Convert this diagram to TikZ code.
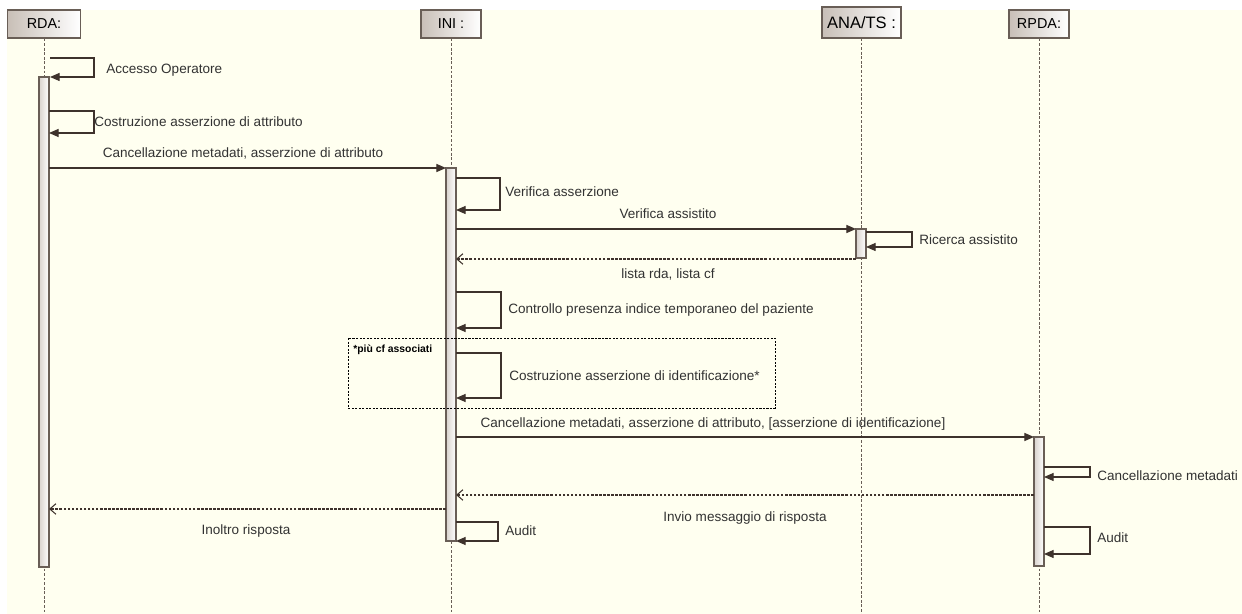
\documentclass[tikz,border=0pt]{standalone}
\usepackage{fontspec}
\setmainfont{Liberation Sans}
\usetikzlibrary{arrows.meta}

\definecolor{sfondo}{RGB}{255,255,240}
\definecolor{bordo}{RGB}{105,94,86}
\definecolor{freccia}{RGB}{62,50,44}
\definecolor{testo}{RGB}{50,50,50}
\definecolor{ombra}{RGB}{200,191,183}

\tikzset{
  head/.style={draw=bordo, line width=0.7pt, left color=ombra, right color=white,
    minimum height=0.56cm, inner sep=0pt, text=black},
  lifeline/.style={draw=bordo, line width=0.5pt, dash pattern=on 1.6pt off 1pt},
  actbar/.style={draw=bordo, line width=0.6pt, left color=ombra!70, right color=white},
  selfmsg/.style={draw=freccia, line width=0.6pt, -{Triangle[length=5.5pt,width=4.6pt]}},
  callmsg/.style={draw=freccia, line width=0.7pt, -{Triangle[length=5.5pt,width=4.6pt]}},
  replymsg/.style={draw=freccia, line width=0.6pt, dash pattern=on 1.5pt off 0.8pt,
    -{Straight Barb[length=3.5pt,width=6pt]}},
  frame/.style={draw=black, line width=0.5pt, dash pattern=on 1.2pt off 0.8pt}
}

\begin{document}
\begin{tikzpicture}[x=0.02cm,y=-0.02cm,font=\fontsize{7.7}{9}\selectfont,text=testo]

% sfondo
\useasboundingbox (0,0) rectangle (1242,614);
\fill[sfondo] (7,10) rectangle (1242,614);

% lifeline
\foreach \name/\x/\larg/\txt in {rda/44/1.46/{RDA:}, ini/451/1.2/{INI :}, rpda/1039/1.2/{RPDA:}} {
    \node[head, minimum width=\larg cm, font=\fontsize{8.2}{10}\selectfont] (\name) at (\x,24) {\txt};
    \coordinate (\name end) at (\x,614);
    \draw[lifeline] (\name) -- (\name end);
}
\node[head, minimum width=1.58cm, minimum height=0.62cm, font=\fontsize{9.4}{11}\selectfont] (ana) at (861.5,22.5) {ANA/TS :};
\coordinate (ana end) at (861,614);
\draw[lifeline] (861,38) -- (ana end);

% barre di attivazione
\foreach \x/\ya/\yb in {44/77/567, 451/168/541, 861/229/258, 1039/437/566} {
    \draw[actbar] (\x-5,\ya) rectangle (\x+5,\yb);
}

% frame opzionale
\draw[frame] (348,338) rectangle (775,408);
\node[anchor=north west, inner sep=0pt, text=black, font=\fontsize{5.9}{7}\bfseries] (nota) at (353,345) {*più cf associati};

% messaggi verso se stessi
\foreach \i/\x/\ya/\yb/\xr/\tx/\ty/\txt in {
    1/50/58/77/94/106/70/{Accesso Operatore},
    2/49/111/133/94/94/122/{Costruzione asserzione di attributo},
    3/456/178/210/500/505/192/{Verifica asserzione},
    4/866/232/247/912/919/240/{Ricerca assistito},
    5/456/292/328/501/508/310/{Controllo presenza indice temporaneo del paziente},
    6/456/353/398/501/509/376/{Costruzione asserzione di identificazione*},
    7/1044/467/477/1090/1097/476/{Cancellazione metadati},
    8/456/522/541/498/505/531/{Audit},
    9/1044/527/554/1090/1097/538/{Audit}} {
    \coordinate (s\i a) at (\x,\ya);
    \coordinate (s\i b) at (\x,\yb);
    \draw[selfmsg] (s\i a) -| (\xr,\yb) -- (s\i b);
    \node[anchor=west, inner sep=0pt] (ls\i) at (\tx,\ty) {\txt};
}

% messaggi tra lifeline
\foreach \i/\xa/\xb/\y/\sty/\tx/\ty/\txt in {
    1/49/446/168/callmsg/243/153/{Cancellazione metadati, asserzione di attributo},
    2/456/856/229/callmsg/668/214/{Verifica assistito},
    3/856/456/259/replymsg/668/274/{lista rda, lista cf},
    4/456/1034/437/callmsg/713/424/{Cancellazione metadati, asserzione di attributo, [asserzione di identificazione]},
    5/1034/456/495/replymsg/745/518/{Invio messaggio di risposta},
    6/446/49/509/replymsg/246/531/{Inoltro risposta}} {
    \coordinate (m\i a) at (\xa,\y);
    \coordinate (m\i b) at (\xb,\y);
    \draw[\sty] (m\i a) -- (m\i b);
    \node[inner sep=0pt] (lm\i) at (\tx,\ty) {\txt};
}

\end{tikzpicture}
\end{document}
